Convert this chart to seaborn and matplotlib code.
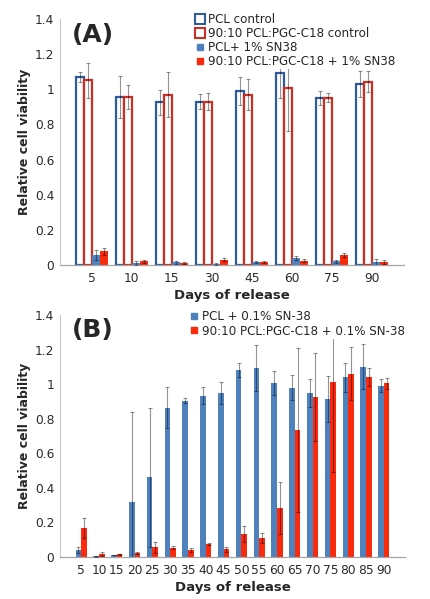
import numpy as np
import pandas as pd
import seaborn as sns
import matplotlib
matplotlib.use("Agg")
import matplotlib.pyplot as plt
from matplotlib.lines import Line2D

# ---------------- Data (Panel A) ----------------
days_a = [5, 10, 15, 30, 45, 60, 75, 90]
series_a = ["PCL control", "90:10 PCL:PGC-C18 control",
            "PCL+ 1% SN38", "90:10 PCL:PGC-C18 + 1% SN38"]
pcl_ctrl = [1.07, 0.955, 0.925, 0.93, 0.99, 1.09, 0.95, 1.03]
pcl_ctrl_err = [0.03, 0.12, 0.07, 0.045, 0.08, 0.14, 0.04, 0.075]
pgc_ctrl = [1.052, 0.955, 0.97, 0.93, 0.97, 1.005, 0.953, 1.042]
pgc_ctrl_err = [0.10, 0.07, 0.13, 0.05, 0.09, 0.245, 0.025, 0.06]
pcl_sn = [0.057, 0.01, 0.015, 0.005, 0.018, 0.04, 0.02, 0.015]
pcl_sn_err = [0.026, 0.012, 0.01, 0.005, 0.004, 0.01, 0.01, 0.02]
pgc_sn = [0.077, 0.02, 0.012, 0.03, 0.015, 0.025, 0.055, 0.018]
pgc_sn_err = [0.02, 0.01, 0.006, 0.01, 0.006, 0.01, 0.012, 0.012]

# ---------------- Data (Panel B) ----------------
days_b = [5, 10, 15, 20, 25, 30, 35, 40, 45, 50, 55, 60, 65, 70, 75, 80, 85, 90]
series_b = ["PCL + 0.1% SN-38", "90:10 PCL:PGC-C18 + 0.1% SN-38"]
pcl_b = [0.042, 0.005, 0.012, 0.316, 0.46, 0.864, 0.905, 0.934, 0.949, 1.082,
         1.092, 1.005, 0.98, 0.949, 0.913, 1.04, 1.101, 0.991]
pcl_b_err = [0.016, 0.003, 0.002, 0.525, 0.40, 0.118, 0.012, 0.048, 0.062, 0.042,
             0.134, 0.07, 0.072, 0.081, 0.133, 0.083, 0.131, 0.037]
pgc_b = [0.168, 0.018, 0.015, 0.023, 0.056, 0.054, 0.042, 0.073, 0.044, 0.133,
         0.11, 0.283, 0.735, 0.924, 1.014, 1.061, 1.04, 1.005]
pgc_b_err = [0.06, 0.01, 0.004, 0.004, 0.03, 0.01, 0.012, 0.006, 0.015, 0.048,
             0.03, 0.152, 0.472, 0.254, 0.52, 0.152, 0.052, 0.033]

yticks = [0, 0.2, 0.4, 0.6, 0.8, 1.0, 1.2, 1.4]
ytick_labels = ["0", "0.2", "0.4", "0.6", "0.8", "1", "1.2", "1.4"]

# ---------------- Style ----------------
sns.set_style("white")
plt.rcParams["font.family"] = ["DejaVu Sans"]

BLUE = "#4F81BD"
RED = "#FA2A0C"
BLUE_EDGE = "#2F5C98"
RED_EDGE = "#CC2E22"
ERR_KW = dict(fmt="none", ecolor="black", alpha=0.42, elinewidth=0.8,
              capsize=1.3, capthick=0.8)

W, H = 431, 599
fig = plt.figure(figsize=(W / 100, H / 100), dpi=100)


def fax(left, top, right, bottom):
    return fig.add_axes([left / W, 1 - bottom / H, (right - left) / W, (bottom - top) / H])


def style_axis(ax):
    ax.set_ylim(0, 1.4)
    ax.set_yticks(yticks)
    ax.set_yticklabels(ytick_labels, fontsize=8.8, color="#2a2a2a")
    ax.tick_params(axis="x", labelsize=8.8, colors="#2a2a2a", length=0, pad=5)
    ax.tick_params(axis="y", length=0, pad=4)
    for s in ["top", "right"]:
        ax.spines[s].set_visible(False)
    ax.spines["left"].set_color("#C8C8C8")
    ax.spines["bottom"].set_color("#A6A6A6")
    ax.spines["left"].set_linewidth(0.8)
    ax.spines["bottom"].set_linewidth(0.9)
    ax.set_ylabel("Relative cell viability", fontsize=9, fontweight="bold", labelpad=3)
    ax.set_xlabel("Days of release", fontsize=9.5, fontweight="bold", labelpad=3)


# ---------------- Panel A ----------------
df_a = pd.DataFrame({
    "day": np.tile([str(d) for d in days_a], 4),
    "series": np.repeat(series_a, len(days_a)),
    "value": pcl_ctrl + pgc_ctrl + pcl_sn + pgc_sn,
})
errs_a = [pcl_ctrl_err, pgc_ctrl_err, pcl_sn_err, pgc_sn_err]
cols_a = [BLUE, RED, BLUE, RED]

axA = fax(60, 19, 404, 265)
sns.barplot(data=df_a, x="day", y="value", hue="series", hue_order=series_a,
            palette=cols_a, errorbar=None, width=0.8, legend=False, ax=axA,
            saturation=1)
bar_conts_a = list(axA.containers)
for i, cont in enumerate(bar_conts_a):
    for bar in cont.patches:
        if i == 0:
            bar.set_facecolor("white"); bar.set_edgecolor(BLUE_EDGE); bar.set_linewidth(1.6)
        elif i == 1:
            bar.set_facecolor("white"); bar.set_edgecolor(RED_EDGE); bar.set_linewidth(1.6)
        else:
            bar.set_edgecolor("none")
    xs = [b.get_x() + b.get_width() / 2 for b in cont.patches]
    hs = [b.get_height() for b in cont.patches]
    axA.errorbar(xs, hs, yerr=errs_a[i], **ERR_KW, zorder=3)
style_axis(axA)

handles_a = [
    Line2D([], [], marker="s", ls="none", ms=7, mfc="white", mec=BLUE_EDGE, mew=1.5),
    Line2D([], [], marker="s", ls="none", ms=7, mfc="white", mec=RED_EDGE, mew=1.5),
    Line2D([], [], marker="s", ls="none", ms=5, mfc=BLUE, mec=BLUE),
    Line2D([], [], marker="s", ls="none", ms=5, mfc=RED, mec=RED),
]
legA = axA.legend(handles_a, series_a, loc="upper left",
                  bbox_to_anchor=(195 / W, 1 - 12 / H), bbox_transform=fig.transFigure,
                  frameon=True, fontsize=8.6, handlelength=0.7, handletextpad=0.3,
                  labelspacing=0.08, borderpad=0.1, borderaxespad=0)
legA.get_frame().set_facecolor("white")
legA.get_frame().set_edgecolor("none")
legA.get_frame().set_alpha(1)
legA.set_zorder(5)
axA.text(72 / W, 1 - 35 / H, "(A)", transform=fig.transFigure, fontsize=18,
         fontweight="bold", va="center", ha="left")

# ---------------- Panel B ----------------
df_b = pd.DataFrame({
    "day": np.tile([str(d) for d in days_b], 2),
    "series": np.repeat(series_b, len(days_b)),
    "value": pcl_b + pgc_b,
})
errs_b = [pcl_b_err, pgc_b_err]

axB = fax(60, 315, 405, 557)
sns.barplot(data=df_b, x="day", y="value", hue="series", hue_order=series_b,
            palette=[BLUE, RED], errorbar=None, width=0.62, legend=False, ax=axB,
            saturation=1)
bar_conts_b = list(axB.containers)
for i, cont in enumerate(bar_conts_b):
    for bar in cont.patches:
        bar.set_edgecolor("none")
    xs = [b.get_x() + b.get_width() / 2 for b in cont.patches]
    hs = [b.get_height() for b in cont.patches]
    axB.errorbar(xs, hs, yerr=errs_b[i], **ERR_KW, zorder=3)
style_axis(axB)

handles_b = [
    Line2D([], [], marker="s", ls="none", ms=5, mfc=BLUE, mec=BLUE),
    Line2D([], [], marker="s", ls="none", ms=5, mfc=RED, mec=RED),
]
legB = axB.legend(handles_b, series_b, loc="upper left",
                  bbox_to_anchor=(189 / W, 1 - 309 / H), bbox_transform=fig.transFigure,
                  frameon=True, fontsize=8.6, handlelength=0.7, handletextpad=0.3,
                  labelspacing=0.12, borderpad=0.1, borderaxespad=0)
legB.get_frame().set_facecolor("white")
legB.get_frame().set_edgecolor("none")
legB.get_frame().set_alpha(1)
legB.set_zorder(5)
axB.text(72 / W, 1 - 330 / H, "(B)", transform=fig.transFigure, fontsize=18,
         fontweight="bold", va="center", ha="left")

fig.savefig("out.png", dpi=100)
